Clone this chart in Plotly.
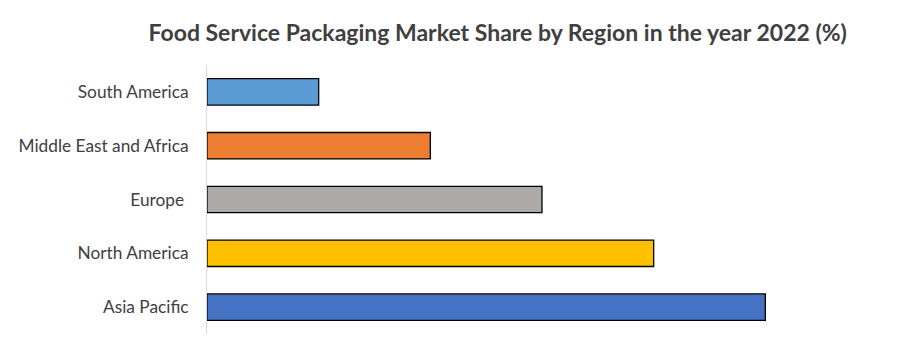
import plotly.graph_objects as go

regions = ["Asia Pacific", "North America", "Europe\u00a0", "Middle East and Africa", "South America"]
shares = [5, 4, 3, 2, 1]
colors = ["#4472C4", "#FFC000", "#ADA9A8", "#ED7D31", "#5B9BD5"]

fig = go.Figure(go.Bar(
    y=regions, x=shares, orientation="h",
    marker=dict(color=colors, line=dict(color="#000000", width=1.3)),
    width=0.49,
))

fig.update_layout(
    width=900, height=349,
    margin=dict(l=207, r=23, t=65, b=15),
    paper_bgcolor="white", plot_bgcolor="white",
    title=dict(text="<b>Food Service Packaging Market Share by Region in the year 2022 (%)</b>",
               x=0.553, xanchor="center", y=0.905, yanchor="middle",
               font=dict(family="Lato", size=23, color="#404040")),
    font=dict(family="Lato", size=17, color="#404040"),
    showlegend=False,
    bargap=0.5,
)
fig.update_xaxes(range=[0, 6], showgrid=False, showticklabels=False, zeroline=False,
                 showline=False, ticks="")
fig.update_yaxes(showline=True, linecolor="#D9D9D9", linewidth=1, showgrid=False,
                 ticks="outside", ticklen=14, tickcolor="rgba(0,0,0,0)",
                 tickfont=dict(family="Lato", size=17.3, color="#404040"))

fig.write_html("out.html")
